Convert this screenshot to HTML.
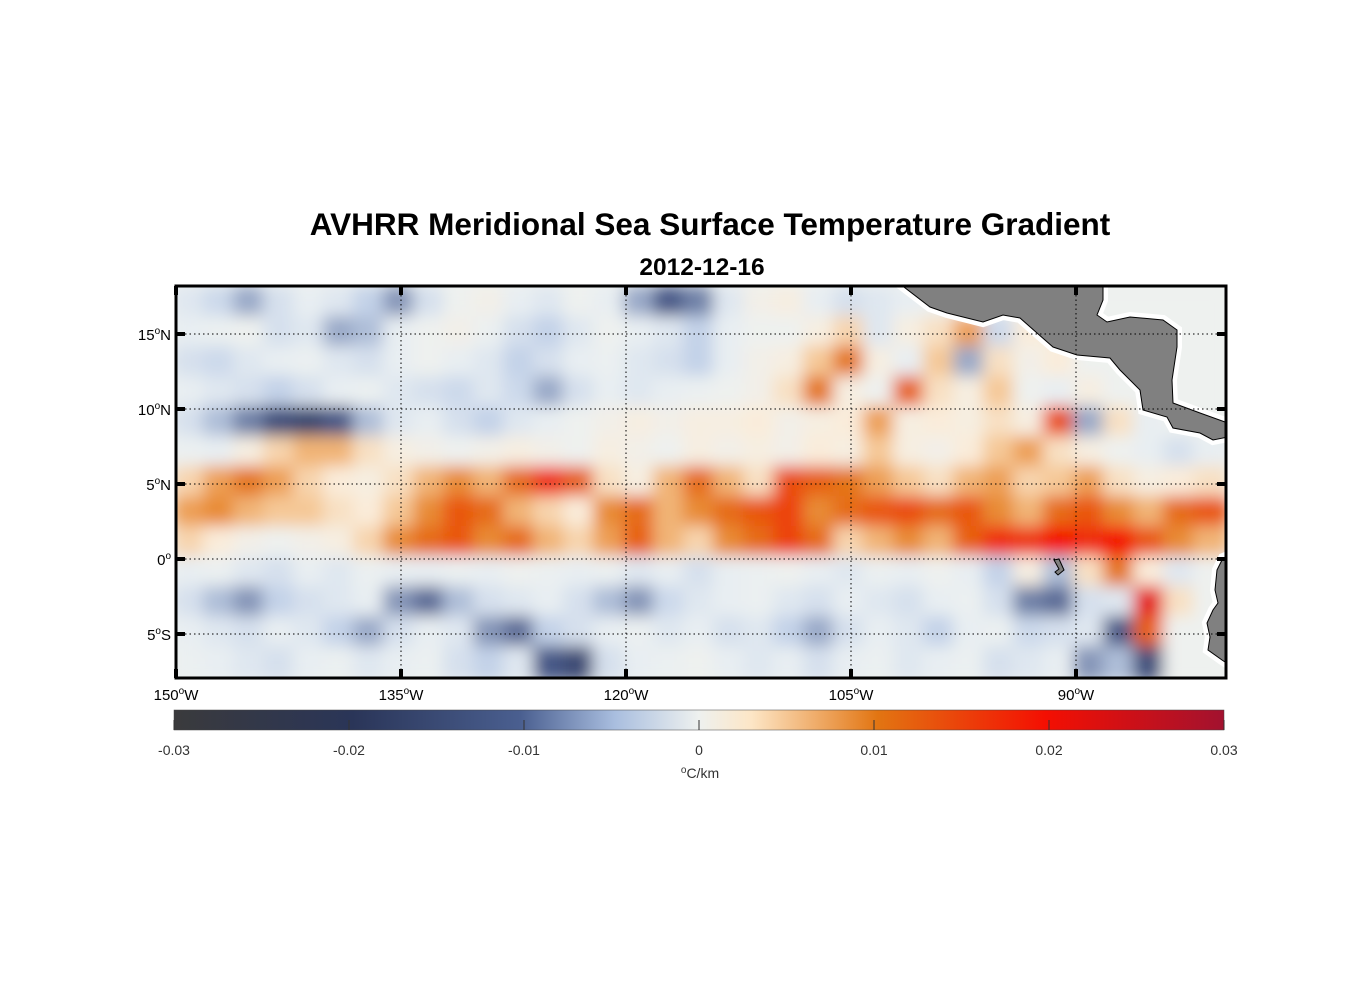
<!DOCTYPE html>
<html><head><meta charset="utf-8"><style>
body{margin:0;background:#fff;font-family:"Liberation Sans",Arial,sans-serif}
svg text{font-family:"Liberation Sans",Arial,sans-serif}
</style></head><body>
<svg id="chart" width="1356" height="1000" xmlns="http://www.w3.org/2000/svg">
<defs>
<clipPath id="mapclip"><rect x="176" y="286" width="1050" height="392"/></clipPath>
<filter id="blur" x="-5%" y="-5%" width="110%" height="110%"><feGaussianBlur stdDeviation="8"/></filter>
<linearGradient id="cbgrad" x1="0" x2="1" y1="0" y2="0">
<stop offset="0" stop-color="#3a3a3c"/><stop offset="0.17" stop-color="#2a3558"/><stop offset="0.33" stop-color="#4a5f90"/>
<stop offset="0.42" stop-color="#a9bedf"/><stop offset="0.5" stop-color="#eef1ef"/><stop offset="0.55" stop-color="#fde6c6"/>
<stop offset="0.67" stop-color="#e27512"/><stop offset="0.83" stop-color="#f40f02"/><stop offset="1" stop-color="#a2122f"/>
</linearGradient>
</defs>
<text x="710" y="235" text-anchor="middle" font-size="31.5" font-weight="bold">AVHRR Meridional Sea Surface Temperature Gradient</text>
<text x="702" y="275" text-anchor="middle" font-size="24.5" font-weight="bold">2012-12-16</text>
<rect x="176" y="286" width="1050" height="392" fill="#eef1ef"/>
<g clip-path="url(#mapclip)"><g id="cells" filter="url(#blur)"></g></g>
<g id="land" clip-path="url(#mapclip)"></g>
<g id="grid"></g>
<rect x="176" y="286" width="1050" height="392" fill="none" stroke="#000" stroke-width="3"/>
<g id="axes"></g>
<rect x="174" y="710" width="1050" height="20" fill="url(#cbgrad)" stroke="#444" stroke-width="0.5"/>
<g id="cbticks"></g>
<text x="700" y="778" text-anchor="middle" font-size="14" fill="#333"><tspan font-size="10" dy="-5">o</tspan><tspan dy="5">C/km</tspan></text>
</svg>
<script>
// grid values in units of 0.001 °C/km; rows from 18N down to 8S (2° each), cols 150W→80W (2° each)
const lonStart = -150, lonStep = 2, latTop = 18, latStep = 2;
const row0 = [-3,-5,-8,-4,-2,-3,-6,-9,-4,0,1,-2,-3,0,-2,-8,-12,-10,-3,1,2,-2,-4,-3,-2,-1,0,0,0,0,0,0,0,0,0];
const row1 = [-2,-1,0,-4,-3,-8,-7,-2,0,1,-1,-4,-6,-3,0,-2,-3,-6,-2,0,0,2,5,-3,2,4,8,-5,3,2,0,0,0,0,0];
const row2 = [-4,-5,-3,-2,-1,-3,-4,-2,0,-2,-3,-6,-4,-2,-1,-3,-4,-6,-2,1,2,6,10,2,-2,6,-8,4,1,3,0,0,0,0,0];
const row3 = [-2,-3,-4,-6,-4,-2,-1,-3,-4,-5,-3,-5,-8,-4,-2,-3,-2,-1,0,1,4,10,2,0,12,4,2,6,0,-2,2,0,0,0,0];
const row4 = [-4,-7,-10,-14,-16,-12,-7,-3,-2,-4,-6,-3,-2,0,1,2,1,2,2,3,1,2,3,8,2,3,2,4,2,14,-8,4,-2,0,0];
const row5 = [-1,-2,2,5,7,7,4,2,1,0,1,2,1,0,2,1,0,2,1,2,1,3,2,6,2,1,3,6,8,4,2,0,-2,-4,-2];
const row6 = [5,8,10,8,5,3,2,4,7,9,7,11,17,12,4,2,7,11,7,4,14,12,10,8,6,4,7,8,5,6,8,4,2,3,4];
const row7 = [8,9,7,6,6,4,3,6,9,13,11,7,5,3,9,11,7,9,11,13,15,9,11,13,14,11,13,9,7,11,13,9,7,11,13];
const row8 = [5,3,1,0,1,2,5,9,11,13,9,11,7,5,8,12,7,5,9,11,15,11,5,7,9,7,12,17,16,20,17,20,13,9,7];
const row9 = [-2,-1,-3,-4,-2,-3,-1,-2,-2,-1,-2,0,-1,-2,-1,-3,-2,-4,-2,-1,0,-2,-3,-1,-2,0,-2,-6,2,-7,4,10,3,-3,0];
const row10 = [-4,-7,-9,-6,-4,-3,-2,-9,-11,-7,-4,-3,-2,-4,-7,-9,-5,-3,-2,-1,-3,-4,-2,-3,-4,-2,-1,-4,-10,-11,-4,-3,22,4,0];
const row11 = [-2,-3,-4,-2,-3,-6,-8,-4,-2,-3,-9,-11,-6,-4,-2,-1,-3,-2,-4,-3,-6,-8,-4,-2,-3,-6,-2,-1,-5,-4,-3,-12,12,0,0];
const row12 = [-1,-2,-3,-4,-2,-1,-3,-2,-1,-4,-6,-3,-12,-15,-4,-2,-1,0,-2,-3,-2,-4,-2,-1,-3,-2,-1,-4,-3,-2,-9,-7,-14,0,0];
const rows = [row0,row1,row2,row3,row4,row5,row6,row7,row8,row9,row10,row11,row12];
const lonTicks = [-150,-135,-120,-105,-90];
const lonLabels = ["150","135","120","105","90"];
const latTicks = [15,10,5,0,-5];
const latLabels = ["15","10","5","0","5"];
const latSuffix = ["N","N","N","",'S'];
const cbTicks = [-0.03,-0.02,-0.01,0,0.01,0.02,0.03];
const cbLabels = ["-0.03","-0.02","-0.01","0","0.01","0.02","0.03"];

const NS="http://www.w3.org/2000/svg";
const X0=176,X1=1226,Y0=286,Y1=678;
const xScale = lon => X0 + (lon+150)*15;
const yScale = lat => 559 - lat*15;
const cbScale = v => 174 + (v+0.03)/0.06*1050;
const stops=[[-30,[58,58,60]],[-20,[42,53,88]],[-12,[70,88,135]],[-6,[195,210,232]],[-2,[232,238,242]],[0,[238,241,239]],[3,[250,236,218]],[6,[245,200,150]],[10,[228,118,20]],[20,[244,15,2]],[30,[162,18,47]]];
function col(v){v=Math.max(-30,Math.min(30,v));for(let i=0;i<stops.length-1;i++){const[a,ca]=stops[i],[b,cb]=stops[i+1];if(v<=b){const t=(v-a)/(b-a);return `rgb(${ca.map((c,k)=>Math.round(c+(cb[k]-c)*t)).join(',')})`;}}}
function mk(tag,at,parent){const e=document.createElementNS(NS,tag);for(const k in at)e.setAttribute(k,at[k]);parent.appendChild(e);return e;}

const cells=document.getElementById('cells');
rows.forEach((r,ri)=>{r.forEach((v,ci)=>{
  const lon=lonStart+ci*lonStep, lat=latTop-ri*latStep;
  const x=xScale(lon), y=yScale(lat);
  const rc=mk('rect',{x:x-3,y:y-3,width:lonStep*15+6,height:latStep*15+6,fill:col(v)},cells);
  
  
});});

const land=document.getElementById('land');
const ca="900,284 930,307 947,313 983,322 1003,315 1020,318 1037,333 1053,347 1077,355 1110,358 1120,370 1140,390 1143,410 1167,417 1173,428 1200,433 1213,440 1228,437 1228,422 1225,422 1200,413 1173,403 1172,380 1177,347 1177,330 1163,320 1130,317 1107,322 1097,315 1103,300 1103,284";
const sa="1228,556 1223,558 1217,570 1215,590 1218,603 1213,610 1207,623 1210,637 1208,650 1222,660 1228,664";
[ca,sa].forEach((p,i)=>{
  const w=mk('polygon',{points:p,fill:'#fff',stroke:'#fff','stroke-width':10},land);
  
  
});
[ca,sa].forEach((p,i)=>{
  const g=mk('polygon',{points:p,fill:'#808080',stroke:'#000','stroke-width':1},land);
  
  
});
const gal=mk('polygon',{points:"1054,560 1059,559 1064,570 1058,575 1055,572 1059,569",fill:'#808080',stroke:'#000','stroke-width':1},land);



const grid=document.getElementById('grid'), axes=document.getElementById('axes');
lonTicks.forEach((lon,i)=>{
  const x=xScale(lon);
  if(i>0){const l=mk('line',{x1:x,x2:x,y1:Y0,y2:Y1,stroke:'#000','stroke-width':1,'stroke-dasharray':'1.5,3'},grid);
  }
  mk('line',{x1:x,x2:x,y1:Y0,y2:Y0+9,stroke:'#000','stroke-width':4},axes);
  mk('line',{x1:x,x2:x,y1:Y1-9,y2:Y1,stroke:'#000','stroke-width':4},axes);
  const t=mk('text',{x:x,y:700,'text-anchor':'middle','font-size':15},axes);
  t.innerHTML=`${lonLabels[i]}<tspan font-size="10" dy="-6">o</tspan><tspan dy="6">W</tspan>`;
  
});
latTicks.forEach((lat,i)=>{
  const y=yScale(lat);
  const l=mk('line',{x1:X0,x2:X1,y1:y,y2:y,stroke:'#000','stroke-width':1,'stroke-dasharray':'1.5,3'},grid);
  
  mk('line',{x1:X0,x2:X0+9,y1:y,y2:y,stroke:'#000','stroke-width':4},axes);
  mk('line',{x1:X1-9,x2:X1,y1:y,y2:y,stroke:'#000','stroke-width':4},axes);
  const t=mk('text',{x:171,y:y+6,'text-anchor':'end','font-size':15},axes);
  t.innerHTML=`${latLabels[i]}<tspan font-size="10" dy="-6">o</tspan><tspan dy="6">${latSuffix[i]}</tspan>`;
  
});
const cbg=document.getElementById('cbticks');
cbTicks.forEach((v,i)=>{
  const x=cbScale(v);
  mk('line',{x1:x,x2:x,y1:720,y2:730,stroke:'#333','stroke-width':1},cbg);
  const t=mk('text',{x:x,y:755,'text-anchor':'middle','font-size':14,fill:'#333'},cbg);
  t.textContent=cbLabels[i];
  
});
</script>
</body></html>
